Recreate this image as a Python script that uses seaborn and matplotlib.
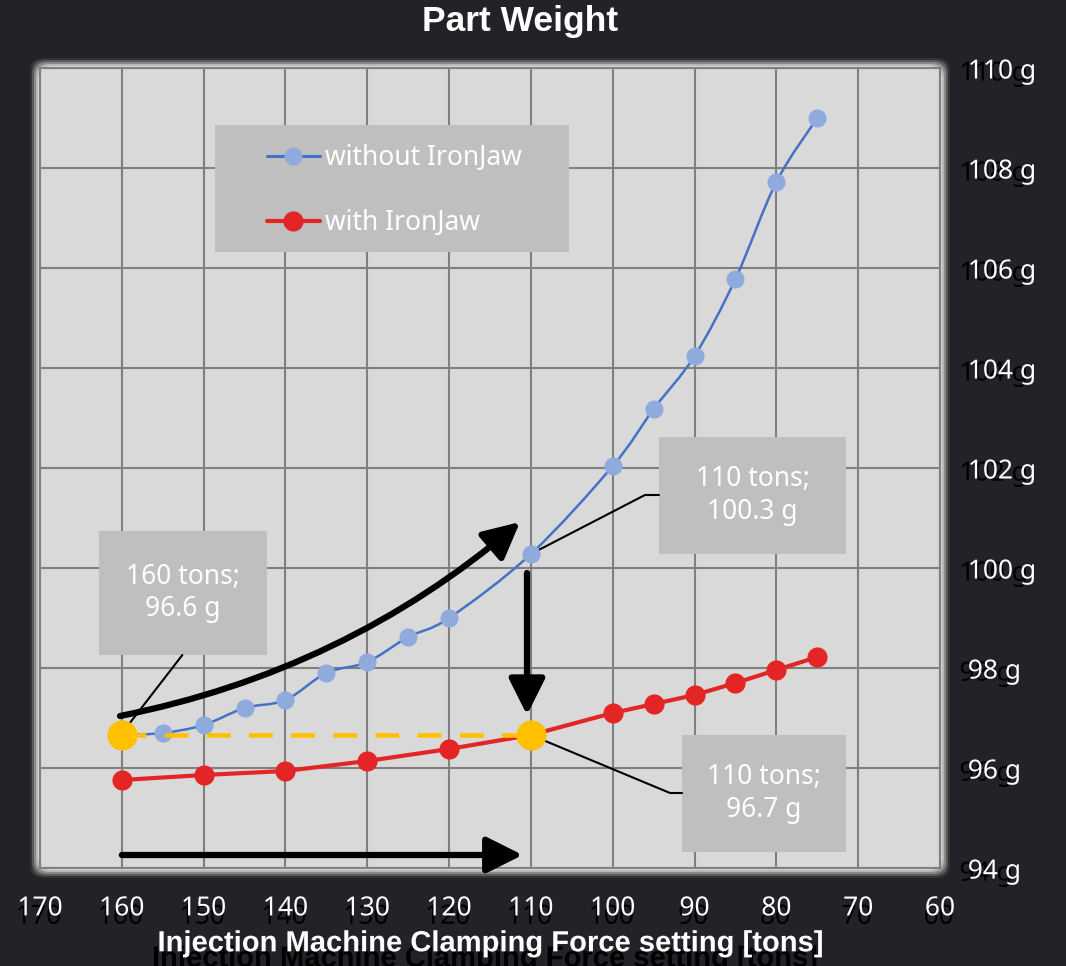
import numpy as np
import matplotlib
matplotlib.use("Agg")
import matplotlib.pyplot as plt
import matplotlib.patheffects as pe
from matplotlib.path import Path
from matplotlib.patches import PathPatch, Rectangle, FancyBboxPatch
from matplotlib.lines import Line2D
import seaborn as sns

# --- dados ---
force_without = [160, 155, 150, 145, 140, 135, 130, 125, 120, 110, 100, 95, 90, 85, 80, 75]
weight_without = [96.66, 96.70, 96.86, 97.20, 97.36, 97.90, 98.12, 98.62, 99.00,
                  100.28, 102.04, 103.18, 104.24, 105.78, 107.72, 109.00]

force_with = [160, 150, 140, 130, 120, 110, 100, 95, 90, 85, 80, 75]
weight_with = [95.76, 95.86, 95.94, 96.14, 96.38, 96.66, 97.10, 97.28, 97.46, 97.70, 97.96, 98.22]

highlight_force = [160, 110]
highlight_weight = [96.66, 96.66]

x_ticks = list(range(170, 59, -10))
y_ticks = list(range(94, 111, 2))
y_tick_labels = [f"{v} g" for v in y_ticks]

labels = ["without IronJaw", "with IronJaw"]
notes = ["160 tons;\n96.6 g", "110 tons;\n100.3 g", "110 tons;\n96.7 g"]

# --- cores ---
BG = "#222328"
PLOT_BG = "#d9d9d9"
GRID = "#808080"
BLUE_LINE = "#4472c4"
BLUE_MARK = "#8faadc"
RED = "#e32526"
YELLOW = "#ffc000"
BOX = "#bfbfbf"
BOLD_FONT = ["Liberation Sans", "DejaVu Sans"]

W, H = 1066, 966


def fx(px):
    return px / W


def fy(py):
    return 1 - py / H


def smooth_path(xs, ys):
    """Curva suavizada (Bezier tipo Catmull-Rom) passando pelos pontos, como no Excel."""
    pts = np.column_stack([xs, ys]).astype(float)
    n = len(pts)
    verts = [pts[0]]
    codes = [Path.MOVETO]
    for i in range(n - 1):
        p0 = pts[max(i - 1, 0)]
        p1 = pts[i]
        p2 = pts[i + 1]
        p3 = pts[min(i + 2, n - 1)]
        verts += [p1 + (p2 - p0) / 6, p2 - (p3 - p1) / 6, p2]
        codes += [Path.CURVE4] * 3
    return Path(verts, codes)


sns.set_style("white")
plt.rcParams["font.family"] = ["Noto Sans", "DejaVu Sans"]

fig = plt.figure(figsize=(W / 100, H / 100), dpi=100, facecolor=BG)
ax = fig.add_axes([fx(40), fy(868), fx(940) - fx(40), fy(68) - fy(868)])
ax.set_facecolor(PLOT_BG)

# moldura arredondada com brilho
for pad, col in [(10, "#333336"), (8, "#5a5a5c"), (6, "#8a8a8a"), (4, "#b8b8b8"),
                 (2, "#dadada"), (1, "#e8e8e8")]:
    glow = FancyBboxPatch((fx(40 - pad), fy(868 + pad)),
                          fx(900 + 2 * pad), fy(0) - fy(800 + 2 * pad),
                          boxstyle="round,pad=0,rounding_size=0.013",
                          transform=fig.transFigure, facecolor=col, edgecolor="none",
                          zorder=-1)
    fig.patches.append(glow)

ax.set_xlim(170, 60)
ax.set_ylim(94, 110)
ax.set_xticks(x_ticks)
ax.set_yticks(y_ticks)
ax.set_yticklabels(y_tick_labels)
ax.yaxis.tick_right()
ax.grid(True, color=GRID, linewidth=1.5)
ax.set_axisbelow(True)
for sp in ax.spines.values():
    sp.set_color(GRID)
    sp.set_linewidth(1.5)

shadow_y = [pe.withSimplePatchShadow(offset=(-6, -1.5), shadow_rgbFace="black", alpha=1)]
shadow_x = [pe.withSimplePatchShadow(offset=(-1, -6), shadow_rgbFace="black", alpha=1)]
ax.tick_params(axis="y", length=0, pad=20, labelsize=19, labelcolor="white")
ax.tick_params(axis="x", length=0, pad=19, labelsize=19, labelcolor="white")
for t in ax.get_yticklabels():
    t.set_path_effects(shadow_y)
    t.set_horizontalalignment("left")
for t in ax.get_xticklabels():
    t.set_path_effects(shadow_x)

ax.set_xlabel("Injection Machine Clamping Force setting [tons]", fontsize=21,
              fontweight="bold", family=BOLD_FONT, color="white", labelpad=5,
              path_effects=[pe.withSimplePatchShadow(offset=(-4, -11), shadow_rgbFace="black", alpha=1)])
ax.set_ylabel("")
fig.text(fx(520), fy(22), "Part Weight", ha="center", va="center", fontsize=25.5,
         fontweight="bold", family=BOLD_FONT, color="white")

# caixa da legenda
ax.add_patch(Rectangle((0.1944, 0.77), 0.393, 0.159, transform=ax.transAxes,
                       facecolor=BOX, edgecolor="none", zorder=2))

# caixas de anotação (coordenadas de dados)
boxes = [(142.26, 98.26, 20.53, 2.48, 152.52, 99.5),
         (71.49, 100.28, 22.85, 2.34, 82.92, 101.45),
         (71.49, 94.32, 20.04, 2.34, 81.51, 95.49)]
for (bx, by, bw, bh, cx, cy), txt in zip(boxes, notes):
    ax.add_patch(Rectangle((bx, by), bw, bh, facecolor=BOX, edgecolor="none", zorder=2))
    ax.text(cx, cy, txt, ha="center", va="center", fontsize=19, color="white",
            linespacing=1.2, zorder=3)

# linhas de chamada
ax.plot([152.6, 159.4], [98.26, 96.82], color="black", lw=1.5, zorder=3)
ax.plot([110, 96.06, 94.34], [100.28, 101.46, 101.46], color="black", lw=1.5, zorder=3)
ax.plot([110, 93.0, 91.53], [96.66, 95.5, 95.5], color="black", lw=1.5, zorder=3)

# série sem IronJaw (linha suavizada)
ax.add_patch(PathPatch(smooth_path(force_without, weight_without), facecolor="none",
                       edgecolor=BLUE_LINE, lw=1.8, zorder=4))
sns.scatterplot(x=force_without, y=weight_without, color=BLUE_MARK, s=170,
                linewidth=0, zorder=5, ax=ax)

# série com IronJaw
sns.lineplot(x=force_with, y=weight_with, color=RED, lw=3, marker="o", markersize=14.5,
             markeredgewidth=0, zorder=5, ax=ax)

# tracejado amarelo e pontos destacados
ax.plot(highlight_force, highlight_weight, color=YELLOW, lw=3.3, dashes=(5.2, 4.0), zorder=5.5)
sns.scatterplot(x=highlight_force, y=highlight_weight, color=YELLOW, s=470,
                linewidth=0, zorder=6, ax=ax)

# setas
arrow_kw = dict(arrowstyle="-|>,head_length=1.1,head_width=0.55", mutation_scale=20,
                color="black", lw=4.5, shrinkA=0, shrinkB=0)
ax.annotate("", xy=(111.0, 94.26), xytext=(160, 94.26),
            arrowprops=dict(**arrow_kw), zorder=7)
ax.annotate("", xy=(110.48, 97.06), xytext=(110.48, 99.9),
            arrowprops=dict(**arrow_kw), zorder=7)
ax.annotate("", xy=(111.33, 100.92), xytext=(160.22, 97.04),
            arrowprops=dict(connectionstyle="arc3,rad=0.13", **arrow_kw), zorder=7)

handles = [Line2D([], [], color=BLUE_LINE, lw=2.2, marker="o", markersize=13,
                  markerfacecolor=BLUE_MARK, markeredgewidth=0),
           Line2D([], [], color=RED, lw=3, marker="o", markersize=14.5,
                  markerfacecolor=RED, markeredgewidth=0)]
leg = ax.legend(handles, labels, loc="center left", bbox_to_anchor=(0.2375, 0.847),
                frameon=False, fontsize=19, labelcolor="white", borderpad=0,
                handlelength=2.0, handletextpad=0.2, labelspacing=1.4)
leg.set_zorder(8)

fig.savefig("out.png", dpi=100, facecolor=BG)
